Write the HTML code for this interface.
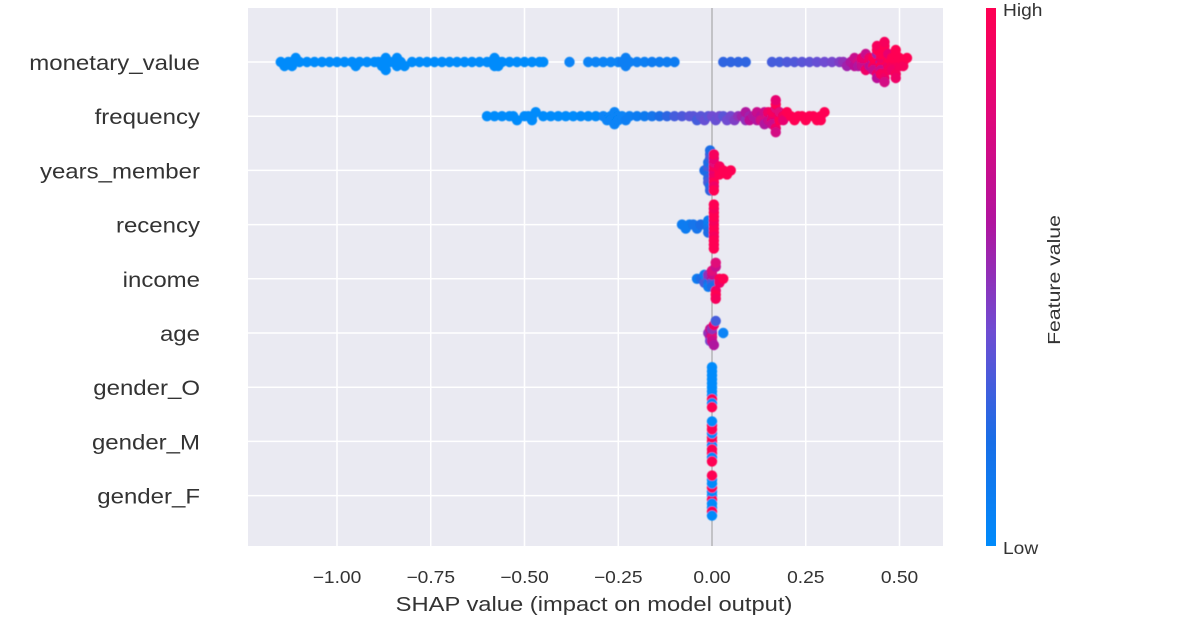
<!DOCTYPE html>
<html><head><meta charset="utf-8"><style>
body{margin:0;background:#fff;width:1200px;height:629px;overflow:hidden}
svg text{font-family:"Liberation Sans",sans-serif;fill:#333}
</style></head><body>
<svg id="c" width="1200" height="629" xmlns="http://www.w3.org/2000/svg">
<defs><linearGradient id="cb" x1="0" y1="1" x2="0" y2="0">
<stop offset="0" stop-color="#008bfb"/><stop offset="0.2" stop-color="#1a6de6"/><stop offset="0.4" stop-color="#6f4cd2"/><stop offset="0.6" stop-color="#b0149f"/><stop offset="0.8" stop-color="#e0077a"/><stop offset="1" stop-color="#ff0052"/></linearGradient>
<filter id="soft"><feGaussianBlur stdDeviation="0.6"/></filter></defs>
<rect x="248" y="8" width="695" height="538" fill="#eaeaf2"/>
<g id="grid"></g><g id="dots" filter="url(#soft)"></g><g id="labels"></g>
<rect x="986" y="8" width="10" height="538" fill="url(#cb)"/>
<text transform="translate(1003,16) scale(1.2,1.08)" font-size="16">High</text>
<text transform="translate(1003,554) scale(1.2,1.08)" font-size="16">Low</text>
<text transform="translate(1060,280) rotate(-90) scale(1.25,1.05)" text-anchor="middle" font-size="17">Feature value</text>
<text transform="translate(594,611) scale(1.25,1.05)" text-anchor="middle" font-size="19">SHAP value (impact on model output)</text>
</svg>
<script>
const features=["monetary_value","frequency","years_member","recency","income","age","gender_O","gender_M","gender_F"];
const xTicks=[-1.0,-0.75,-0.5,-0.25,0,0.25,0.5];
const xTickLabels=["\u22121.00","\u22120.75","\u22120.50","\u22120.25","0.00","0.25","0.50"];
// [shap, featureValue]
const monetaryPts=[[-1.15,0],[-1.14,0],[-1.13,0],[-1.12,0],[-1.12,0],[-1.11,0],[-1.1,0],[-1.08,0],[-1.06,0],[-1.04,0],[-1.02,0],[-1,0],[-0.98,0],[-0.96,0],[-0.95,0],[-0.94,0],[-0.92,0],[-0.9,0],[-0.89,0],[-0.88,0],[-0.88,0],[-0.87,0],[-0.87,0],[-0.86,0],[-0.85,0],[-0.84,0],[-0.84,0],[-0.83,0],[-0.82,0],[-0.8,0],[-0.78,0],[-0.76,0],[-0.74,0],[-0.72,0],[-0.7,0],[-0.68,0],[-0.66,0],[-0.64,0],[-0.62,0],[-0.6,0],[-0.59,0],[-0.58,0],[-0.58,0],[-0.57,0],[-0.57,0],[-0.56,0],[-0.54,0],[-0.52,0],[-0.5,0],[-0.48,0],[-0.46,0],[-0.45,0],[-0.38,0.05],[-0.33,0.05],[-0.31,0.05],[-0.29,0.05],[-0.27,0.05],[-0.25,0.05],[-0.24,0.08],[-0.23,0.08],[-0.23,0.08],[-0.22,0.08],[-0.2,0.08],[-0.18,0.08],[-0.16,0.1],[-0.14,0.1],[-0.12,0.1],[-0.1,0.1],[0.03,0.25],[0.05,0.25],[0.07,0.25],[0.09,0.25],[0.16,0.3],[0.18,0.3],[0.2,0.32],[0.22,0.33],[0.24,0.35],[0.26,0.36],[0.28,0.38],[0.3,0.4],[0.32,0.42],[0.34,0.45],[0.35,0.5],[0.36,0.55],[0.37,0.6],[0.38,0.65],[0.38,0.7],[0.39,0.75],[0.39,0.6],[0.4,0.8],[0.4,0.7],[0.4,0.85],[0.41,0.9],[0.41,0.7],[0.42,0.95],[0.42,0.65],[0.42,0.9],[0.43,0.6],[0.43,0.95],[0.43,1],[0.43,0.7],[0.44,0.55],[0.44,0.9],[0.44,1],[0.44,0.65],[0.44,0.95],[0.45,0.6],[0.45,1],[0.45,0.9],[0.45,0.7],[0.45,1],[0.45,0.95],[0.46,1],[0.46,0.9],[0.46,1],[0.46,0.75],[0.46,0.95],[0.47,1],[0.47,0.9],[0.47,1],[0.47,0.95],[0.47,0.85],[0.48,1],[0.48,0.95],[0.48,1],[0.48,0.9],[0.49,1],[0.49,0.95],[0.49,1],[0.49,0.9],[0.5,1],[0.5,0.95],[0.5,1],[0.51,1],[0.51,0.95],[0.52,1]];
const frequencyPts=[[-0.6,0],[-0.58,0],[-0.56,0],[-0.54,0],[-0.53,0],[-0.52,0],[-0.5,0],[-0.49,0],[-0.48,0],[-0.48,0],[-0.47,0],[-0.45,0],[-0.43,0],[-0.41,0],[-0.39,0],[-0.37,0],[-0.35,0.02],[-0.33,0.02],[-0.31,0.02],[-0.29,0.05],[-0.28,0.05],[-0.27,0.05],[-0.27,0.05],[-0.26,0.05],[-0.26,0.05],[-0.25,0.05],[-0.25,0.05],[-0.24,0.05],[-0.23,0.08],[-0.22,0.08],[-0.2,0.1],[-0.18,0.12],[-0.16,0.15],[-0.14,0.2],[-0.12,0.25],[-0.1,0.3],[-0.08,0.32],[-0.06,0.35],[-0.05,0.35],[-0.04,0.3],[-0.03,0.35],[-0.02,0.38],[-0.01,0.35],[0,0.4],[0.01,0.38],[0.02,0.4],[0.03,0.35],[0.04,0.4],[0.05,0.42],[0.06,0.45],[0.07,0.5],[0.08,0.55],[0.09,0.5],[0.09,0.6],[0.1,0.55],[0.1,0.65],[0.11,0.6],[0.12,0.6],[0.12,0.7],[0.13,0.65],[0.13,0.75],[0.14,0.7],[0.14,0.6],[0.15,0.8],[0.15,0.7],[0.15,0.9],[0.16,0.75],[0.16,0.85],[0.16,0.95],[0.16,0.7],[0.17,0.8],[0.17,0.9],[0.17,1],[0.17,0.75],[0.17,0.85],[0.18,0.9],[0.18,1],[0.18,0.8],[0.19,0.95],[0.19,0.85],[0.2,1],[0.21,1],[0.22,1],[0.23,1],[0.24,1],[0.25,1],[0.26,1],[0.27,1],[0.28,1],[0.29,1],[0.29,1],[0.3,1]];
const yearsPts=[[-0.02,0.2],[-0.01,0.25],[-0.01,0.2],[-0.01,0.3],[-0.01,0.25],[-0.01,0.2],[-0.01,0.3],[-0.005,0.25],[-0.005,0.2],[-0.005,0.3],[-0.005,0.25],[-0.005,0.2],[0.005,0.9],[0.005,0.85],[0.005,0.95],[0.005,0.9],[0.005,0.8],[0.005,1],[0.005,0.85],[0.005,0.9],[0.005,0.95],[0.005,1],[0.02,1],[0.02,1],[0.02,0.95],[0.03,1],[0.04,1],[0.05,1]];
const recencyPts=[[-0.08,0.1],[-0.07,0.1],[-0.06,0.1],[-0.05,0.15],[-0.04,0.15],[-0.03,0.2],[-0.01,0.1],[-0.01,0.15],[-0.01,0.1],[-0.01,0.2],[0.005,1],[0.005,1],[0.005,0.95],[0.005,1],[0.005,1],[0.005,0.95],[0.005,1],[0.005,1],[0.005,0.95],[0.005,1],[0.005,1],[0.005,1]];
const incomePts=[[-0.04,0.1],[-0.03,0.2],[-0.02,0.3],[-0.02,0.1],[-0.01,0.4],[-0.01,0.2],[-0.01,0.5],[-0.01,0.1],[0,0.6],[0,0.3],[0,0.7],[0,0.2],[0,0.8],[0.01,0.9],[0.01,0.7],[0.01,1],[0.01,0.8],[0.01,0.95],[0.02,1],[0.02,0.9],[0.03,1]];
const agePts=[[-0.01,0.5],[-0.005,0.6],[-0.005,0.7],[-0.005,0.4],[0,0.6],[0,0.8],[0,0.5],[0,0.7],[0.005,0.9],[0.005,0.6],[0.01,0.3],[0.03,0.05]];
const genderOPts=[[0,0],[0,0],[0,0],[0,0],[0,0],[0,1],[0,0],[0,0],[0,0],[0,1],[0,0]];
const genderMPts=[[0,1],[0,0],[0,1],[0,1],[0,0],[0,1],[0,1],[0,0],[0,1],[0,1],[0,0]];
const genderFPts=[[0,0],[0,1],[0,0],[0,0],[0,1],[0,0],[0,0],[0,1],[0,0],[0,0],[0,1]];
const allPts=[monetaryPts,frequencyPts,yearsPts,recencyPts,incomePts,agePts,genderOPts,genderMPts,genderFPts];

const NS="http://www.w3.org/2000/svg";
const X0=712,XS=375,PL=248,PR=943,PT=8,PB=546,ROW0=62,ROWH=54.2;
const xs=v=>X0+v*XS, ys=i=>ROW0+i*ROWH;
const stops=[[0,[0,139,251]],[0.2,[26,109,230]],[0.4,[111,76,210]],[0.6,[176,20,159]],[0.8,[224,7,122]],[1,[255,0,82]]];
function col(t){for(let i=1;i<stops.length;i++){if(t<=stops[i][0]){const a=stops[i-1],b=stops[i],f=(t-a[0])/(b[0]-a[0]);return 'rgb('+a[1].map((c,k)=>Math.round(c+(b[1][k]-c)*f)).join(',')+')';}}return 'rgb(255,0,82)';}
function mk(tag,at,parent){const e=document.createElementNS(NS,tag);for(const k in at)e.setAttribute(k,at[k]);parent.appendChild(e);return e;}
const grid=document.getElementById('grid'),dots=document.getElementById('dots'),labels=document.getElementById('labels');
xTicks.forEach((t,i)=>{
  if(t!==0){const l=mk('line',{x1:xs(t),x2:xs(t),y1:PT,y2:PB,stroke:'#fff','stroke-width':1.5},grid);
  
  }
  const tx=mk('text',{transform:'translate('+xs(t)+',583) scale(1.2,1.08)','text-anchor':'middle','font-size':16},labels);tx.textContent=xTickLabels[i];
  
  
});
features.forEach((f,i)=>{
  const l=mk('line',{x1:PL,x2:PR,y1:ys(i),y2:ys(i),stroke:'#fff','stroke-width':1.5},grid);
  
  
  const tx=mk('text',{transform:'translate(200,'+(ys(i)+8)+') scale(1.2,1.08)','text-anchor':'end','font-size':20},labels);tx.textContent=f;
  
  
});
const zl=mk('line',{x1:xs(0),x2:xs(0),y1:PT,y2:PB,stroke:'#999','stroke-width':1},grid);


allPts.forEach((pts,i)=>{
  const cnt={};
  pts.forEach(p=>{
    const px=xs(p[0]);const b=Math.round(px/6);const n=cnt[b]||0;cnt[b]=n+1;
    const off=n===0?0:(n%2?1:-1)*Math.ceil(n/2)*4;
    const c=mk('circle',{cx:px,cy:ys(i)+off,r:5.2,fill:col(p[1])},dots);
    
    
  });
});
</script>
</body></html>
